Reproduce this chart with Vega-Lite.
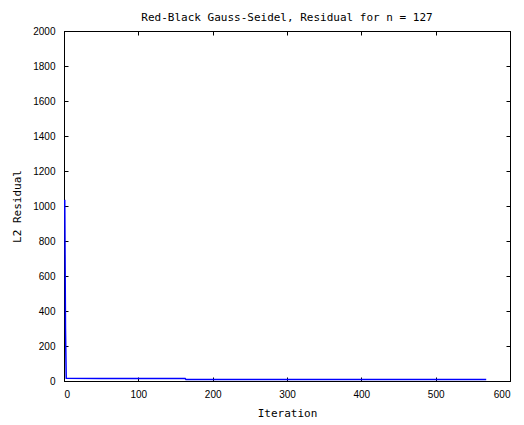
{
  "$schema": "https://vega.github.io/schema/vega-lite/v6.json",
  "width": 446,
  "height": 350,
  "autosize": {"type": "none"},
  "padding": {"left": 64, "top": 31, "right": 14, "bottom": 44},
  "background": "white",
  "title": {
    "text": "Red-Black Gauss-Seidel, Residual for n = 127",
    "font": "DejaVu Sans Mono",
    "fontSize": 11,
    "fontWeight": "normal",
    "color": "black",
    "offset": 3
  },
  "config": {
    "view": {"stroke": "black", "strokeWidth": 1},
    "axis": {
      "grid": false,
      "domainColor": "black",
      "tickColor": "black",
      "tickSize": -4,
      "labelFont": "Liberation Sans",
      "labelFontSize": 10,
      "labelColor": "black",
      "format": "d",
      "titleFont": "DejaVu Sans Mono",
      "titleFontSize": 11,
      "titleFontWeight": "normal",
      "titleColor": "black"
    }
  },
  "data": {
    "values": [
      {"iteration": 1, "residual": 1035},
      {"iteration": 2, "residual": 300},
      {"iteration": 3, "residual": 16},
      {"iteration": 50, "residual": 15},
      {"iteration": 100, "residual": 15},
      {"iteration": 163, "residual": 14},
      {"iteration": 164, "residual": 9},
      {"iteration": 300, "residual": 9},
      {"iteration": 450, "residual": 9},
      {"iteration": 568, "residual": 9}
    ]
  },
  "layer": [
    {
      "mark": {"type": "line", "color": "#0000ff", "strokeWidth": 1.5, "clip": true},
      "encoding": {
        "x": {
          "field": "iteration", "type": "quantitative",
          "scale": {"domain": [0, 600], "nice": false, "zero": false},
          "axis": {"orient": "bottom", "values": [0, 100, 200, 300, 400, 500, 600], "title": "Iteration", "labelPadding": 12, "titlePadding": 8}
        },
        "y": {
          "field": "residual", "type": "quantitative",
          "scale": {"domain": [0, 2000], "nice": false},
          "axis": {"orient": "left", "values": [0, 200, 400, 600, 800, 1000, 1200, 1400, 1600, 1800, 2000], "title": "L2 Residual", "labelPadding": 13, "titlePadding": 10}
        }
      }
    },
    {
      "mark": {"type": "line", "opacity": 0},
      "encoding": {
        "x": {
          "field": "iteration", "type": "quantitative",
          "scale": {"domain": [0, 600], "nice": false, "zero": false},
          "axis": {"orient": "top", "values": [0, 100, 200, 300, 400, 500, 600], "labels": false, "title": null}
        },
        "y": {
          "field": "residual", "type": "quantitative",
          "scale": {"domain": [0, 2000], "nice": false},
          "axis": {"orient": "right", "values": [0, 200, 400, 600, 800, 1000, 1200, 1400, 1600, 1800, 2000], "labels": false, "title": null}
        }
      }
    }
  ],
  "resolve": {"axis": {"x": "independent", "y": "independent"}}
}
